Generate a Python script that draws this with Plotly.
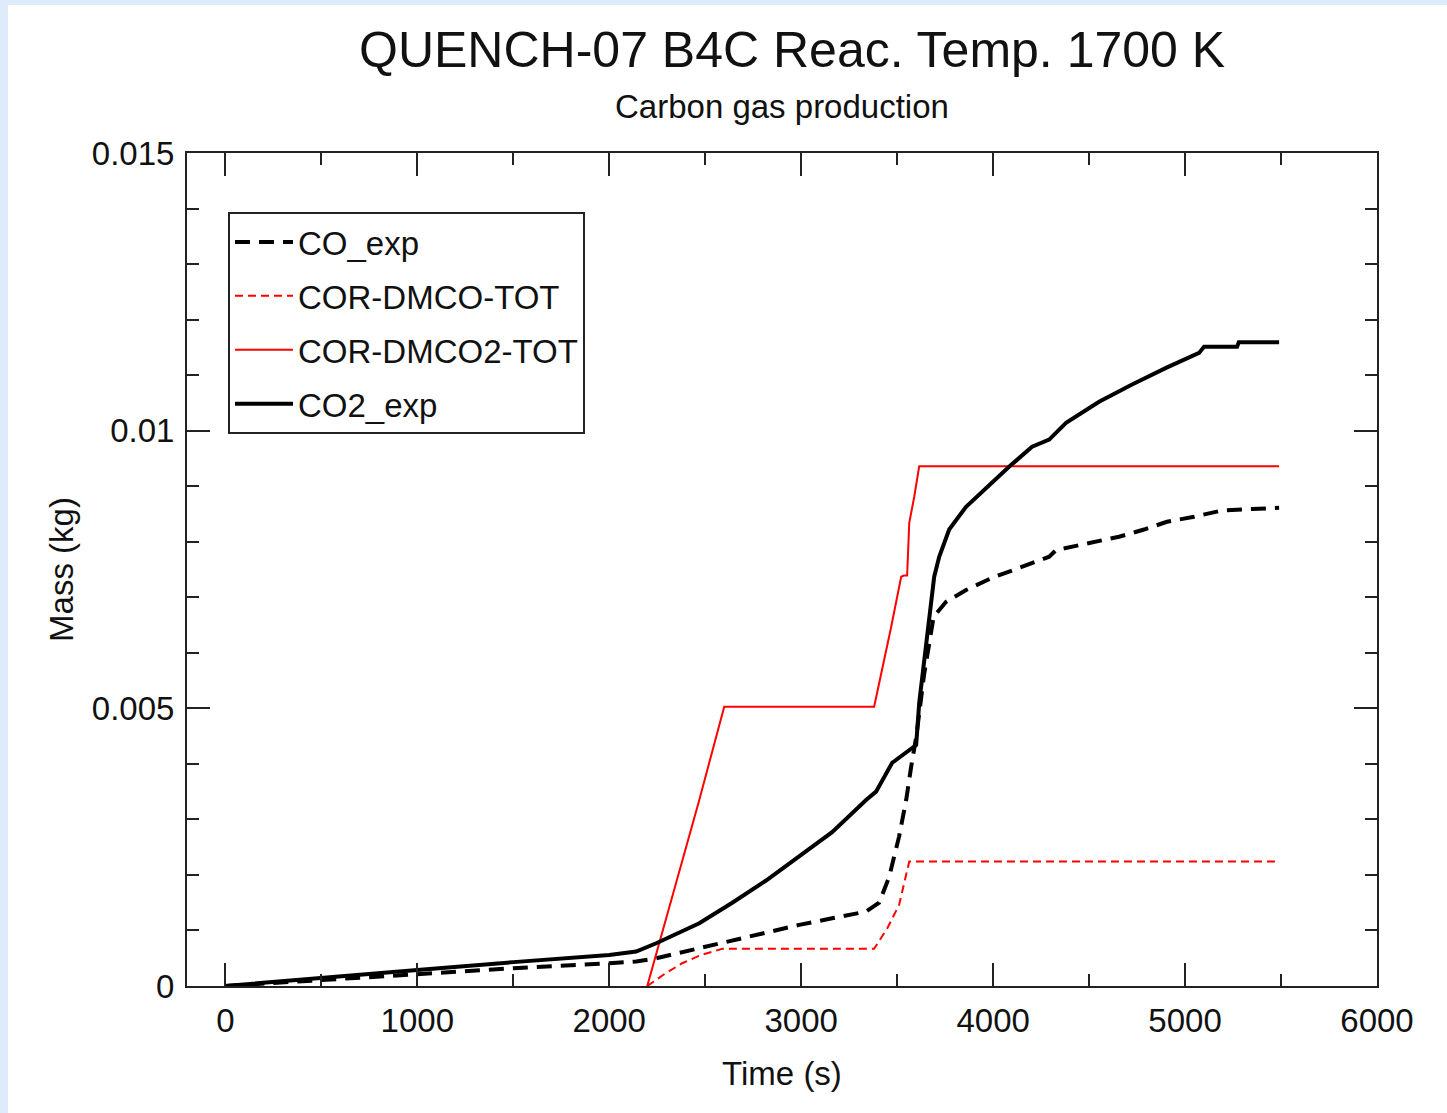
import plotly.graph_objects as go

# ---------------- data ----------------
co_exp_t = [0, 500, 1000, 1500, 2000, 2140, 2245, 2469, 2641, 2817, 2990, 3161, 3338, 3406,
            3458, 3510, 3547, 3573, 3589, 3600, 3640, 3690, 3755, 3859, 3995, 4151, 4292,
            4328, 4518, 4656, 4786, 4906, 5047, 5188, 5349, 5490]
co_exp_m = [0.0, 0.00011, 0.00022, 0.00032, 0.00041, 0.00044, 0.00050, 0.00068, 0.00083,
            0.00097, 0.00110, 0.00122, 0.00134, 0.00150, 0.00196, 0.00269, 0.00335, 0.00395,
            0.00425, 0.00450, 0.00560, 0.00665, 0.00692, 0.00713, 0.00735, 0.00755, 0.00773,
            0.00785, 0.00798, 0.00809, 0.00822, 0.00836, 0.00845, 0.00856, 0.00859, 0.00861]

dmco_t = [2198, 2290, 2380, 2480, 2589, 3380, 3450, 3510, 3563, 5490]
dmco_m = [0.0, 0.00022, 0.00041, 0.00056, 0.00067, 0.00067, 0.00105, 0.00146, 0.00224, 0.00224]

dmco2_t = [2198, 2469, 2599, 3380, 3469, 3521, 3535, 3552, 3563, 3589, 3615, 5490]
dmco2_m = [0.0, 0.00335, 0.00503, 0.00503, 0.00647, 0.00737, 0.00739, 0.00739, 0.00834,
           0.00881, 0.00936, 0.00936]

co2_exp_t = [0, 500, 1000, 1500, 2000, 2140, 2245, 2469, 2641, 2817, 2990, 3161, 3338, 3390,
             3474, 3578, 3599, 3615, 3656, 3677, 3693, 3719, 3771, 3859, 3943, 4083, 4203,
             4292, 4380, 4552, 4724, 4901, 5073, 5099, 5271, 5280, 5490]
co2_exp_m = [0.0, 0.00015, 0.00029, 0.00043, 0.00056, 0.00062, 0.00077, 0.00113, 0.00150,
             0.00190, 0.00233, 0.00277, 0.00335, 0.00350, 0.00402, 0.00430, 0.00434, 0.00510,
             0.00630, 0.00680, 0.00737, 0.00773, 0.00822, 0.00863, 0.00890, 0.00935, 0.00971,
             0.00984, 0.01014, 0.01052, 0.01083, 0.01113, 0.01140, 0.01151, 0.01151, 0.01159,
             0.01159]

x_tickvals = [0, 1000, 2000, 3000, 4000, 5000, 6000]
x_ticktext = ["0", "1000", "2000", "3000", "4000", "5000", "6000"]
y_tickvals = [0, 0.005, 0.01, 0.015]
y_ticktext = ["0", "0.005", "0.01", "0.015"]

FONT = "Liberation Sans, Arial, sans-serif"
AX = "#222222"

fig = go.Figure()
fig.add_trace(go.Scatter(x=co_exp_t, y=co_exp_m, mode="lines", name="CO_exp",
                         legendgroup="a",
                         line=dict(color="black", width=4, dash="15px,9px")))
fig.add_trace(go.Scatter(x=dmco_t, y=dmco_m, mode="lines", name="COR-DMCO-TOT",
                         legendgroup="b",
                         line=dict(color="#ff0000", width=2, dash="8px,5px")))
fig.add_trace(go.Scatter(x=dmco2_t, y=dmco2_m, mode="lines", name="COR-DMCO2-TOT",
                         legendgroup="c",
                         line=dict(color="#ff0000", width=2)))
fig.add_trace(go.Scatter(x=co2_exp_t, y=co2_exp_m, mode="lines", name="CO2_exp",
                         legendgroup="d",
                         line=dict(color="black", width=4)))

axis_common = dict(
    showline=True, linecolor=AX, linewidth=2, mirror="allticks",
    ticks="inside", ticklen=23, tickwidth=2, tickcolor=AX,
    showgrid=False, zeroline=False, automargin=False,
    tickfont=dict(family=FONT, size=33, color="#111111"),
)

fig.update_xaxes(range=[-200, 6000], tickmode="array", tickvals=x_tickvals,
                 ticktext=x_ticktext,
                 minor=dict(dtick=500, tick0=0, ticks="inside", ticklen=12,
                            tickwidth=2, tickcolor=AX),
                 title=dict(text="Time (s)", font=dict(family=FONT, size=33, color="#111111"),
                            standoff=24),
                 ticklabelstandoff=4,
                 **axis_common)
fig.update_yaxes(range=[0, 0.015], tickmode="array", tickvals=y_tickvals,
                 ticktext=y_ticktext,
                 minor=dict(dtick=0.001, tick0=0, ticks="inside", ticklen=12,
                            tickwidth=2, tickcolor=AX),
                 title=dict(text="Mass (kg)", font=dict(family=FONT, size=33, color="#111111"),
                            standoff=8),
                 ticklabelstandoff=4,
                 **axis_common)

W, H = 1447, 1113
L, R, T, B = 187, 70, 153, 127
pw, ph = W - L - R, H - T - B

def px(xp):
    return (xp - L) / pw

def py(yp):
    return (H - B - yp) / ph

fig.update_layout(
    width=W, height=H,
    margin=dict(l=L, r=R, t=T, b=B, pad=0),
    paper_bgcolor="white", plot_bgcolor="white",
    font=dict(family=FONT, color="#111111"),
    showlegend=True,
    legend=dict(
        x=px(228), y=py(212), xanchor="left", yanchor="top",
        bgcolor="white", bordercolor=AX, borderwidth=2,
        font=dict(family=FONT, size=33, color="#111111"),
        tracegroupgap=8, itemwidth=58, traceorder="grouped",
    ),
    annotations=[
        dict(text="QUENCH-07 B4C Reac. Temp. 1700 K", xref="paper", yref="paper",
             x=px(792), y=py(50), xanchor="center", yanchor="middle", showarrow=False,
             font=dict(family=FONT, size=50, color="#111111")),
        dict(text="Carbon gas production", xref="paper", yref="paper",
             x=px(782), y=py(106), xanchor="center", yanchor="middle", showarrow=False,
             font=dict(family=FONT, size=33, color="#111111")),
    ],
    shapes=[
        dict(type="rect", xref="paper", yref="paper", x0=px(-5), x1=px(8),
             y0=py(H + 5), y1=py(-5), fillcolor="#deebfa", line=dict(width=0), layer="below"),
        dict(type="rect", xref="paper", yref="paper", x0=px(-5), x1=px(W + 5),
             y0=py(5), y1=py(-5), fillcolor="#deebfa", line=dict(width=0), layer="below"),
    ],
)

fig.write_html("out.html",
               config={"displayModeBar": False},
               post_script="document.body.style.margin='0';document.body.style.overflow='hidden';")
